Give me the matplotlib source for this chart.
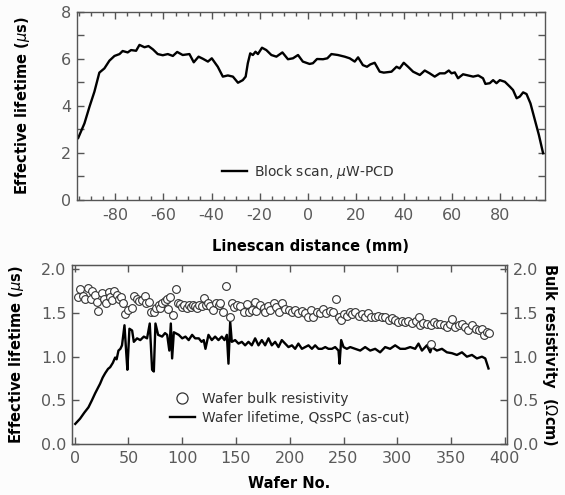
import matplotlib
matplotlib.use("Agg")
import matplotlib.pyplot as plt
from matplotlib.ticker import MultipleLocator, FormatStrFormatter
from matplotlib.lines import Line2D

# ---------------- data: top panel (block scan) ----------------
scan_mm = [-95.5, -92.9, -90.8, -88.75, -86.7, -84.6, -82.5, -80.4, -78.3, -77, -74.9, -73.5,
           -71.4, -70, -67.9, -66.25, -64.4, -62.4, -60.3, -58.2, -56.1, -54.3, -52, -49.2,
           -47.4, -45.4, -43.6, -41.5, -39.9, -37.4, -35.3, -33.2, -31.1, -29, -27, -25.8,
           -24.9, -23.9, -22.8, -21.7, -20.7, -19, -17.2, -15.1, -13, -10.5, -8.2, -6.1, -4,
           -2, 0.8, 2.2, 3.9, 6.4, 8.2, 9.9, 12.6, 15.4, 17.5, 19.6, 21, 23, 24.7, 26.1, 27.9,
           30, 31.7, 34.9, 37, 38.3, 40, 41.8, 43.9, 46.7, 48.75, 50.8, 52.9, 55, 57.1, 58.75,
           59.9, 61.25, 62.6, 64.7, 66.8, 68.9, 71, 73, 74, 75.8, 77.2, 78.6, 80, 82.1, 84.2,
           85.5, 87, 88.3, 89.7, 91.1, 92.75, 94.6, 96.25, 98]
scan_tau = [2.64, 3.26, 3.97, 4.61, 5.42, 5.6, 5.93, 6.13, 6.21, 6.34, 6.28, 6.38,
            6.35, 6.6, 6.5, 6.55, 6.41, 6.21, 6.16, 6.21, 6.13, 6.3, 6.17, 6.21,
            5.86, 6.1, 6.01, 5.89, 6.03, 5.67, 5.25, 5.3, 5.25, 4.99, 5.1, 5.25,
            5.82, 6.24, 6.17, 6.31, 6.21, 6.48, 6.38, 6.17, 6.1, 6.28, 5.99, 6.03, 6.17,
            5.89, 5.79, 5.82, 6.0, 5.99, 6.03, 6.21, 6.17, 6.1, 6.03, 5.89, 6.07, 5.74, 5.67, 5.77, 5.84,
            5.46, 5.42, 5.46, 5.67, 5.6, 5.84, 5.67, 5.46, 5.32, 5.51, 5.39, 5.25, 5.39, 5.39, 5.51,
            5.39, 5.43, 5.18, 5.35, 5.3, 5.25, 5.3, 5.18, 4.94, 4.97, 5.1, 4.97, 5.1, 5.03, 4.82,
            4.68, 4.33, 4.4, 4.58, 4.51, 4.11, 3.40, 2.77, 1.99]

# ---------------- data: bottom panel ----------------
life_wafer = [0.5, 5, 9, 12.8, 16, 19, 21.5, 23.6, 26, 28.3, 31, 33, 35.5, 37.6, 39, 40.7,
              42.5, 44, 46.3, 47.8, 49, 50.9, 53.4, 55, 58, 61, 64.3, 67.3, 69.8, 72, 73.6,
              75.1, 77.6, 81.3, 84, 86, 88, 89.4, 90.6, 92.2, 96.8, 100, 103, 106, 109.2,
              112, 115.4, 118, 120, 121.6, 124.4, 127.5, 130.6, 133.7, 136.8, 139.3, 141.5,
              143, 144.6, 146.1, 149.2, 152.3, 155.4, 158.5, 161.6, 164.7, 167.8, 170.9, 174,
              177.1, 180.2, 183.3, 186.4, 189.5, 192.6, 195.7, 198.8, 202, 205, 208, 211.3,
              214.3, 217.4, 220.6, 223.6, 226.7, 229.9, 233, 236, 239.2, 242.2, 245.3, 246.3,
              247.8, 250, 253.1, 256.2, 260.8, 265.5, 270.1, 274.8, 279.4, 284, 288.7, 293.3,
              298, 302.7, 307.3, 312, 316.6, 319.7, 322.9, 327.5, 330.6, 332.2, 336.8, 341.5,
              346.1, 350.8, 355.4, 360.1, 364.7, 369.4, 374, 378.7, 381.8, 384.8]
life_tau = [0.23, 0.29, 0.36, 0.42, 0.5, 0.58, 0.64, 0.69, 0.76, 0.81, 0.86, 0.88, 0.93, 0.99, 0.97, 1.07,
            1.09, 1.13, 1.36, 1.07, 0.85, 1.32, 1.30, 1.17, 1.21, 1.19, 1.23, 1.21, 1.38, 0.85, 0.83,
            1.38, 1.25, 1.23, 1.27, 1.25, 1.07, 1.38, 0.98, 1.28, 1.25, 1.21, 1.23, 1.19, 1.25,
            1.21, 1.21, 1.17, 1.19, 1.09, 1.25, 1.19, 1.23, 1.19, 1.23, 1.19, 1.25,
            0.92, 1.40, 1.17, 1.19, 1.15, 1.17, 1.13, 1.17, 1.13, 1.21, 1.13, 1.19,
            1.13, 1.21, 1.13, 1.17, 1.11, 1.19, 1.15, 1.11, 1.13, 1.09, 1.15, 1.09,
            1.11, 1.13, 1.09, 1.13, 1.09, 1.09, 1.11, 1.09, 1.09, 1.11, 1.07, 0.92,
            1.19, 1.11, 1.09, 1.11, 1.09, 1.07, 1.11, 1.07, 1.09, 1.05, 1.11, 1.09,
            1.13, 1.09, 1.09, 1.11, 1.09, 1.15, 1.07, 1.13, 1.05, 1.11, 1.07, 1.09,
            1.05, 1.04, 1.02, 1.05, 1.0, 1.02, 0.98, 1.0, 0.98, 0.865]

res_wafer = [3, 5, 8, 10, 12, 15, 16, 19, 21, 22, 25, 27, 29, 32, 33, 35, 37, 39, 41, 43, 45,
             47, 50, 53, 55, 58, 60, 63, 65, 66, 69, 71, 74, 76, 78, 79, 81, 84, 86, 87, 89,
             91, 94, 96, 98, 100, 102, 104, 106, 108, 110, 112, 114, 116, 118, 120, 122, 124,
             126, 129, 131, 134, 135, 138, 141, 144, 146, 148, 151, 154, 157, 160, 162, 165,
             168, 169, 172, 176, 177, 180, 182, 185, 187, 190, 193, 196, 199, 202, 205, 208,
             211, 214, 217, 220, 222, 225, 228, 231, 234, 237, 240, 243, 246, 248, 250, 253,
             256, 258, 261, 264, 267, 270, 273, 276, 279, 282, 286, 289, 292, 295, 298, 301,
             304, 307, 310, 314, 317, 320, 321, 324, 328, 331, 331, 334, 337, 340, 343, 346,
             349, 351, 354, 357, 360, 363, 366, 369, 373, 376, 379, 381, 383, 385]
res_val = [1.68, 1.77, 1.70, 1.66, 1.79, 1.66, 1.75, 1.71, 1.63, 1.52, 1.73, 1.66, 1.62, 1.74,
           1.68, 1.65, 1.75, 1.71, 1.66, 1.68, 1.62, 1.49, 1.53, 1.56, 1.70, 1.66, 1.64, 1.65,
           1.70, 1.62, 1.63, 1.51, 1.51, 1.56, 1.59, 1.56, 1.62, 1.64, 1.66, 1.55, 1.68,
           1.48, 1.77, 1.61, 1.60, 1.57, 1.59, 1.56, 1.59, 1.57, 1.59, 1.58, 1.56, 1.59, 1.58,
           1.67, 1.59, 1.61, 1.58, 1.54, 1.62, 1.59, 1.61, 1.51, 1.81, 1.455, 1.61, 1.57, 1.59,
           1.58, 1.51, 1.60, 1.51, 1.53, 1.63, 1.52, 1.59, 1.56, 1.51, 1.58, 1.53, 1.61, 1.57,
           1.51, 1.61, 1.55, 1.53, 1.51, 1.53, 1.50, 1.52, 1.50, 1.455, 1.54, 1.455, 1.51,
           1.50, 1.55, 1.50, 1.52, 1.51, 1.66, 1.455, 1.42, 1.49, 1.47, 1.51, 1.49, 1.51, 1.47,
           1.49, 1.455, 1.50, 1.45, 1.455, 1.47, 1.46, 1.45, 1.42, 1.44, 1.42, 1.40, 1.41,
           1.40, 1.41, 1.39, 1.41, 1.45, 1.36, 1.39, 1.38, 1.36, 1.15, 1.40, 1.38, 1.37,
           1.36, 1.34, 1.37, 1.43, 1.34, 1.36, 1.38, 1.34, 1.31, 1.36, 1.32, 1.30, 1.32, 1.245,
           1.28, 1.27]

top_xticks = [-80, -60, -40, -20, 0, 20, 40, 60, 80]
top_yticks = [0, 2, 4, 6, 8]
bot_xticks = [0, 50, 100, 150, 200, 250, 300, 350, 400]
bot_yticks = [0.0, 0.5, 1.0, 1.5, 2.0]

# ---------------- styling ----------------
plt.rcParams['font.family'] = ['DejaVu Sans']
plt.rcParams['axes.unicode_minus'] = False
TICKC = '#5a5a5a'
SPINEC = '#555555'
BG = '#fcfcfc'

fig = plt.figure(figsize=(5.65, 4.95), dpi=100, facecolor=BG)

def style_axes(ax):
    ax.set_facecolor(BG)
    for s in ax.spines.values():
        s.set_color(SPINEC)
        s.set_linewidth(1.0)
    ax.tick_params(colors=SPINEC, labelcolor=TICKC, labelsize=11.5, width=1.0)

# ---------------- top panel ----------------
ax1 = fig.add_axes([77/565, 1-200/495, (545-77)/565, (200-12)/495])
style_axes(ax1)
ax1.plot(scan_mm, scan_tau, color='black', lw=1.7, label='Block scan, $\\mu$W-PCD')
ax1.set_xlim(-96, 98.8)
ax1.set_ylim(0, 8)
ax1.set_xticks(top_xticks)
ax1.set_yticks(top_yticks)
ax1.xaxis.set_minor_locator(MultipleLocator(5))
ax1.yaxis.set_minor_locator(MultipleLocator(1))
ax1.tick_params(axis='x', which='major', direction='in', top=True, length=5, pad=6)
ax1.tick_params(axis='x', which='minor', direction='in', top=True, length=3, width=1.0, colors=SPINEC)
ax1.tick_params(axis='y', which='major', direction='in', right=True, length=5, pad=4)
ax1.tick_params(axis='y', which='minor', direction='in', right=True, length=5, width=1.0, colors=SPINEC)
ax1.set_xlabel('Linescan distance (mm)', fontsize=10.5, fontweight='bold')
ax1.set_ylabel('Effective lifetime ($\\mu$s)', fontsize=10.5, fontweight='bold')
ax1.xaxis.set_label_coords(0.5, -0.205)
ax1.yaxis.set_label_coords(-0.096, 0.5)
leg1 = ax1.legend(loc='center left', bbox_to_anchor=(0.31, 0.149), frameon=False,
                  fontsize=10, handlelength=1.8, handletextpad=0.5, borderpad=0,
                  borderaxespad=0)
for t in leg1.get_texts():
    t.set_color('#333333')

# ---------------- bottom panel ----------------
ax2 = fig.add_axes([72/565, 1-444/495, (507-72)/565, (444-265)/495])
style_axes(ax2)
ax2.set_xlim(-2.5, 402)
ax2.set_ylim(0, 2.05)
ax2.set_xticks(bot_xticks)
ax2.set_yticks(bot_yticks)
ax2.yaxis.set_major_formatter(FormatStrFormatter('%.1f'))
ax2.tick_params(axis='x', direction='in', top=True, length=5, pad=5)
ax2.tick_params(axis='y', direction='in', length=5, pad=4)
ax2.set_xlabel('Wafer No.', fontsize=10.5, fontweight='bold')
ax2.set_ylabel('Effective lifetime ($\\mu$s)', fontsize=10.5, fontweight='bold')
ax2.xaxis.set_label_coords(0.5, -0.18)
ax2.yaxis.set_label_coords(-0.106, 0.5)

ax3 = ax2.twinx()
ax3.set_ylim(0, 2.05)
ax3.set_yticks(bot_yticks)
ax3.yaxis.set_major_formatter(FormatStrFormatter('%.1f'))
ax3.tick_params(axis='y', direction='in', length=5, pad=4, colors=SPINEC,
                labelcolor=TICKC, labelsize=11.5, width=1.0)
for s in ax3.spines.values():
    s.set_color(SPINEC)
ax3.set_ylabel('Bulk resistivity  ($\\Omega$cm)', fontsize=10.5, fontweight='bold',
               rotation=270, va='center', ha='center')
ax3.yaxis.set_label_coords(1.097, 0.5)

ax3.plot(res_wafer, res_val, linestyle='none', marker='o', markersize=5.6,
         markerfacecolor='white', markeredgecolor='#333333', markeredgewidth=0.8, zorder=3)
ax2.plot(life_wafer, life_tau, color='black', lw=1.7, zorder=2)

handles = [Line2D([], [], linestyle='none', marker='o', markersize=8,
                  markerfacecolor='white', markeredgecolor='#333333', markeredgewidth=0.9),
           Line2D([], [], color='black', lw=1.7)]
leg2 = ax2.legend(handles, ['Wafer bulk resistivity', 'Wafer lifetime, QssPC (as-cut)'],
                  loc='center left', bbox_to_anchor=(0.225, 0.2), frameon=False,
                  fontsize=10, handlelength=1.8, handletextpad=0.5, borderpad=0,
                  borderaxespad=0, labelspacing=0.35)
for t in leg2.get_texts():
    t.set_color('#333333')

fig.savefig('out.png', dpi=100, facecolor=BG)
